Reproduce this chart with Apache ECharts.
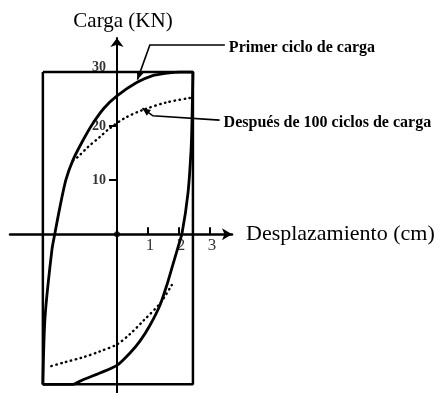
<!DOCTYPE html>
<html>
<head>
<meta charset="utf-8">
<script src="https://cdn.jsdelivr.net/npm/echarts@6/dist/echarts.min.js"></script>
<style>
html, body { margin: 0; padding: 0; background: #fff; }
#chart { width: 444px; height: 393px; }
</style>
</head>
<body>
<div id="chart"></div>
<script>
// marco del ensayo (desplazamiento, carga)
var boxX = [-2.39, 2.45, 2.45, -2.39, -2.39];
var boxY = [30, 30, -27.8, -27.8, 30];

// primer ciclo de carga (curva continua)
var firstX = [-2.39, -2.32, -2.10, -2.00, -1.84, -1.65, -1.42, -1.13, -0.81, -0.42, 0, 0.65, 1.13, 1.61, 2.03, 2.45,
              2.42, 2.39, 2.29, 2.10, 1.97, 1.77, 1.61, 1.39, 1.06, 0.74, 0.42, 0, -0.55, -1.19, -1.42, -2.39];
var firstY = [-27.8, -15.4, -3.0, 0.2, 5.0, 10.0, 13.7, 17.0, 20.2, 23.3, 25.6, 28.1, 29.3, 29.8, 30, 30,
              21.1, 15.6, 7.6, 0.2, -2.4, -6.3, -9.4, -13.1, -16.9, -19.8, -22.0, -24.3, -25.7, -27.2, -27.8, -27.8];

// después de 100 ciclos (punteada), rama superior e inferior
var afterUpX = [2.35, 1.61, 0.84, 0.26, -0.23, -0.55, -0.94, -1.26, -1.45];
var afterUpY = [25.2, 24.4, 23.0, 21.5, 19.6, 18.0, 16.1, 14.3, 13.5];
var afterLowX = [1.77, 1.39, 0.84, 0.42, 0, -0.55, -1.10, -1.68, -2.23];
var afterLowY = [-9.4, -12.8, -16.1, -18.5, -20.4, -21.7, -22.8, -23.7, -24.6];

var xTicks = [1, 2, 3];
var yTicks = [10, 20, 30];

// notas con flecha: texto y puntos de la guía en coordenadas de datos
var noteTexts = ['Primer ciclo de carga', 'Después de 100 ciclos de carga'];
var noteLineX = [[3.48, 1.06, 0.66], [3.31, 1.16, 0.82]];
var noteLineY = [[35.0, 35.0, 28.6], [21.1, 21.9, 23.3]];

function zip(xs, ys) {
  return xs.map(function (x, i) { return [x, ys[i]]; });
}

var serif = 'Liberation Serif';
var chart = echarts.init(document.getElementById('chart'));

var option = {
  animation: false,
  backgroundColor: '#fff',
  grid: { left: 10, top: 38, width: 222, height: 355, containLabel: false, outerBoundsMode: 'none' },
  xAxis: {
    type: 'value',
    min: -3.45,
    max: 3.71,
    name: 'Desplazamiento (cm)',
    nameLocation: 'end',
    nameGap: 14,
    nameTextStyle: { fontFamily: serif, fontSize: 22, color: '#000', verticalAlign: 'middle' },
    axisLine: { onZero: true, symbol: ['none', 'arrow'], symbolSize: [9, 10], lineStyle: { color: '#000', width: 2.5 } },
    axisTick: { show: true, inside: true, length: 7, customValues: xTicks, lineStyle: { color: '#000', width: 2 } },
    axisLabel: { show: false },
    splitLine: { show: false }
  },
  yAxis: {
    type: 'value',
    min: -29.4,
    max: 36.3,
    name: 'Carga (KN)',
    nameLocation: 'end',
    nameGap: 6,
    nameTextStyle: { fontFamily: serif, fontSize: 21, color: '#000', padding: [0, 0, 0, 12] },
    axisLine: { onZero: true, symbol: ['none', 'arrow'], symbolSize: [10, 9], lineStyle: { color: '#000', width: 2 } },
    axisTick: { show: true, length: 8, customValues: yTicks, lineStyle: { color: '#000', width: 2 } },
    axisLabel: { show: false },
    splitLine: { show: false }
  },
  series: [
    {
      name: 'marco',
      type: 'line',
      data: zip(boxX, boxY),
      symbol: 'none',
      lineStyle: { color: '#000', width: 2.5 }
    },
    {
      name: 'Primer ciclo de carga',
      type: 'line',
      data: zip(firstX, firstY),
      symbol: 'none',
      smooth: 0.25,
      lineStyle: { color: '#000', width: 2.8 }
    },
    {
      name: 'Después de 100 ciclos (sup)',
      type: 'line',
      data: zip(afterUpX, afterUpY),
      symbol: 'none',
      smooth: 0.3,
      lineStyle: { color: '#000', width: 2.4, type: [0.5, 4.5], cap: 'round' }
    },
    {
      name: 'Después de 100 ciclos (inf)',
      type: 'line',
      data: zip(afterLowX, afterLowY),
      symbol: 'none',
      smooth: 0.3,
      lineStyle: { color: '#000', width: 2.4, type: [0.5, 4.5], cap: 'round' }
    },
    {
      name: 'origen',
      type: 'scatter',
      data: [[0, 0]],
      symbolSize: 6,
      itemStyle: { color: '#000' }
    },
    {
      // etiquetas del eje de desplazamiento, sobre la línea del cero
      name: 'ticksX',
      type: 'scatter',
      data: xTicks.map(function (v) { return [v, 0]; }),
      symbolSize: 0,
      silent: true,
      label: {
        show: true, position: 'bottom', distance: 2, offset: [2, 1],
        formatter: function (p) { return String(p.value[0]); },
        fontFamily: serif, fontSize: 17, color: '#000'
      }
    },
    {
      // etiquetas del eje de carga (la última queda encima del marco)
      name: 'ticksY',
      type: 'scatter',
      data: yTicks.map(function (v, i) {
        var item = { value: [0, v] };
        if (i === yTicks.length - 1) item.label = { offset: [0, -5] };
        return item;
      }),
      symbolSize: 0,
      silent: true,
      label: {
        show: true, position: 'left', distance: 11,
        formatter: function (p) { return String(p.value[1]); },
        fontFamily: serif, fontWeight: 'bold', fontSize: 14, color: '#000'
      }
    }
  ]
};

chart.setOption(option);

// guías con flecha y textos de las notas
var graphics = [];
noteTexts.forEach(function (txt, k) {
  var pts = noteLineX[k].map(function (x, i) {
    return chart.convertToPixel({ gridIndex: 0 }, [x, noteLineY[k][i]]);
  });
  graphics.push({
    type: 'polyline',
    shape: { points: pts },
    style: { stroke: '#000', lineWidth: 1.6, fill: null }
  });
  var tip = pts[pts.length - 1], prev = pts[pts.length - 2];
  var dx = tip[0] - prev[0], dy = tip[1] - prev[1];
  var len = Math.sqrt(dx * dx + dy * dy);
  var ux = dx / len, uy = dy / len;
  var bx = tip[0] - ux * 8, by = tip[1] - uy * 8;
  graphics.push({
    type: 'polygon',
    shape: { points: [tip, [bx - uy * 3.5, by + ux * 3.5], [bx + uy * 3.5, by - ux * 3.5]] },
    style: { fill: '#000' }
  });
  var start = pts[0];
  graphics.push({
    type: 'text',
    x: start[0] + 4,
    y: start[1] + 3,
    style: {
      text: txt,
      fontFamily: serif,
      fontWeight: 'bold',
      fontSize: 16,
      fill: '#000',
      verticalAlign: 'middle'
    }
  });
});
chart.setOption({ graphic: graphics });
</script>
</body>
</html>
